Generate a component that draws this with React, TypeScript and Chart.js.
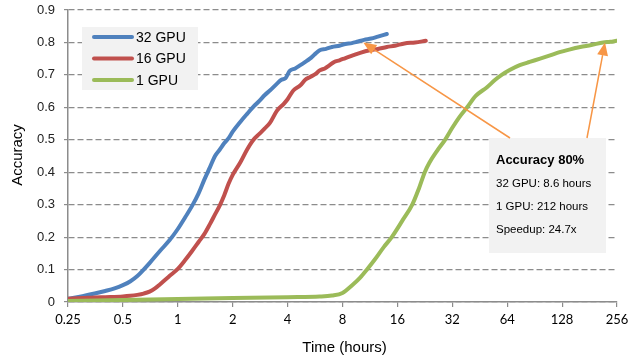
import React, { useEffect, useRef } from "react";
import { Chart, registerables } from "chart.js";

Chart.register(...registerables);

const xTickValues = [0.25, 0.5, 1, 2, 4, 8, 16, 32, 64, 128, 256];
const yTickMax = 0.9;

const seriesNames = ["32 GPU", "16 GPU", "1 GPU"];
const seriesColors = ["#4f81bd", "#c0504d", "#9bbb59"];

const timeBlue = [0.25, 0.3, 0.35, 0.4, 0.45, 0.5, 0.55, 0.6, 0.65, 0.7, 0.8, 0.9, 1.0, 1.1, 1.2, 1.3, 1.4, 1.5, 1.6, 1.7, 1.8, 1.9, 2.0, 2.2, 2.4, 2.6, 2.8, 3.0, 3.2, 3.5, 3.7, 3.9, 4.1, 4.4, 4.7, 5.0, 5.3, 5.6, 6.0, 6.5, 7.0, 7.7, 8.3, 9.0, 9.6, 10.5, 11.5, 12.5, 14];
const accBlue = [0.01, 0.018, 0.026, 0.034, 0.042, 0.052, 0.064, 0.08, 0.1, 0.12, 0.158, 0.19, 0.225, 0.262, 0.297, 0.335, 0.378, 0.415, 0.45, 0.47, 0.49, 0.505, 0.525, 0.555, 0.58, 0.602, 0.62, 0.638, 0.652, 0.673, 0.685, 0.69, 0.712, 0.72, 0.73, 0.74, 0.75, 0.762, 0.776, 0.78, 0.786, 0.79, 0.795, 0.798, 0.802, 0.808, 0.812, 0.818, 0.826];

const timeRed = [0.25, 0.3, 0.35, 0.4, 0.5, 0.55, 0.6, 0.65, 0.7, 0.75, 0.8, 0.85, 0.9, 1.0, 1.1, 1.2, 1.3, 1.4, 1.5, 1.6, 1.7, 1.8, 1.9, 2.0, 2.2, 2.4, 2.6, 2.8, 3.0, 3.2, 3.5, 3.8, 4.0, 4.3, 4.7, 5.0, 5.3, 5.7, 6.0, 6.4, 6.8, 7.2, 7.7, 8.3, 9.1, 10, 11.3, 12.5, 14, 15.5, 17.5, 20, 22.9];
const accRed = [0.01, 0.012, 0.014, 0.015, 0.017, 0.019, 0.022, 0.026, 0.032, 0.042, 0.055, 0.068, 0.08, 0.102, 0.13, 0.158, 0.185, 0.21, 0.24, 0.27, 0.298, 0.33, 0.365, 0.392, 0.43, 0.47, 0.5, 0.518, 0.535, 0.552, 0.59, 0.61, 0.625, 0.652, 0.668, 0.685, 0.693, 0.703, 0.714, 0.72, 0.73, 0.74, 0.745, 0.752, 0.76, 0.768, 0.776, 0.78, 0.786, 0.79, 0.797, 0.8, 0.805];

const timeGreen = [0.25, 0.5, 1, 2, 4, 6, 7, 8, 9.1, 10, 10.9, 12, 13.5, 14.9, 17, 19.3, 21, 22.6, 24, 26.4, 29.2, 32, 35, 38.6, 43, 49.6, 55, 59.7, 66, 75, 85, 97, 110, 124, 140, 161, 185, 215, 235, 254];
const accGreen = [0.003, 0.006, 0.009, 0.012, 0.015, 0.017, 0.02, 0.028, 0.053, 0.075, 0.1, 0.13, 0.17, 0.2, 0.25, 0.3, 0.35, 0.4, 0.43, 0.466, 0.5, 0.537, 0.57, 0.6, 0.635, 0.662, 0.685, 0.7, 0.715, 0.73, 0.74, 0.75, 0.76, 0.77, 0.778, 0.786, 0.792, 0.8, 0.802, 0.805];

const annotationTitle = "Accuracy 80%";
const annotationLines = ["32 GPU: 8.6 hours", "1 GPU: 212 hours", "Speedup: 24.7x"];
const arrowTipTimes = [10.4, 220];
const arrowTipAcc = 0.8;

const xTitle = "Time (hours)";
const yTitle = "Accuracy";

const ORANGE = "#f79646";

function drawArrow(ctx: CanvasRenderingContext2D, x1: number, y1: number, x2: number, y2: number) {
  const ang = Math.atan2(y2 - y1, x2 - x1);
  const headLen = 13;
  const headW = 5.5;
  const bx = x2 - headLen * Math.cos(ang);
  const by = y2 - headLen * Math.sin(ang);
  ctx.save();
  ctx.strokeStyle = ORANGE;
  ctx.fillStyle = ORANGE;
  ctx.lineWidth = 1.5;
  ctx.beginPath();
  ctx.moveTo(x1, y1);
  ctx.lineTo(bx, by);
  ctx.stroke();
  ctx.beginPath();
  ctx.moveTo(x2, y2);
  ctx.lineTo(bx + headW * Math.sin(ang), by - headW * Math.cos(ang));
  ctx.lineTo(bx - headW * Math.sin(ang), by + headW * Math.cos(ang));
  ctx.closePath();
  ctx.fill();
  ctx.restore();
}

const overlayPlugin = {
  id: "overlay",
  afterDraw(chart: any) {
    const ctx: CanvasRenderingContext2D = chart.ctx;
    const area = chart.chartArea;
    const xs = chart.scales.x;
    const ys = chart.scales.y;

    // Legend
    const lx = area.left + 14;
    const ly = area.top + 17;
    ctx.save();
    ctx.fillStyle = "#f2f2f2";
    ctx.fillRect(lx, ly, 116, 63);
    seriesNames.forEach((name, i) => {
      const yy = ly + 10 + i * 21.5;
      ctx.strokeStyle = seriesColors[i];
      ctx.lineWidth = 4;
      ctx.lineCap = "round";
      ctx.beginPath();
      ctx.moveTo(lx + 12, yy);
      ctx.lineTo(lx + 50, yy);
      ctx.stroke();
      ctx.fillStyle = "#000";
      ctx.font = "14px 'Liberation Sans', Arial, sans-serif";
      ctx.textBaseline = "middle";
      ctx.textAlign = "left";
      ctx.fillText(name, lx + 54, yy + 1);
    });
    ctx.restore();

    // Annotation box
    const bx = area.right - 128;
    const by = area.top + 128;
    ctx.save();
    ctx.fillStyle = "#f2f2f2";
    ctx.fillRect(bx, by, 117, 115);
    ctx.fillStyle = "#000";
    ctx.textBaseline = "middle";
    ctx.textAlign = "left";
    ctx.font = "bold 13px 'Liberation Sans', Arial, sans-serif";
    ctx.fillText(annotationTitle, bx + 7, by + 22);
    ctx.font = "11.5px 'Liberation Sans', Arial, sans-serif";
    annotationLines.forEach((t, i) => {
      ctx.fillText(t, bx + 7, by + 46 + i * 23);
    });
    ctx.restore();

    // Arrows
    const ty = ys.getPixelForValue(arrowTipAcc);
    drawArrow(ctx, bx + 21, by, xs.getPixelForValue(arrowTipTimes[0]), ty);
    drawArrow(ctx, bx + 98, by, xs.getPixelForValue(arrowTipTimes[1]), ty);

    // Axis titles
    ctx.save();
    ctx.fillStyle = "#000";
    ctx.font = "15px 'Liberation Sans', Arial, sans-serif";
    ctx.textAlign = "center";
    ctx.textBaseline = "middle";
    ctx.fillText(xTitle, (area.left + area.right) / 2 + 2, 348);
    ctx.translate(18, 155);
    ctx.rotate(-Math.PI / 2);
    ctx.fillText(yTitle, 0, 0);
    ctx.restore();
  },
};

export default function App() {
  const ref = useRef<HTMLCanvasElement>(null);
  useEffect(() => {
    document.body.style.margin = "0";
    const mk = (t: number[], a: number[]) => t.map((v, i) => ({ x: v, y: a[i] }));
    const chart = new Chart(ref.current!, {
      type: "line",
      data: {
        datasets: [
          { label: seriesNames[0], data: mk(timeBlue, accBlue), borderColor: seriesColors[0], order: 2 },
          { label: seriesNames[1], data: mk(timeRed, accRed), borderColor: seriesColors[1], order: 1 },
          { label: seriesNames[2], data: mk(timeGreen, accGreen), borderColor: seriesColors[2], order: 0 },
        ].map((d) => ({
          ...d,
          borderWidth: 4,
          pointRadius: 0,
          fill: false,
          cubicInterpolationMode: "monotone" as const,
          borderCapStyle: "round" as const,
          borderJoinStyle: "round" as const,
        })),
      },
      options: {
        responsive: false,
        animation: false,
        layout: { padding: { top: 10, right: 23, left: 0, bottom: 0 } },
        plugins: { legend: { display: false }, tooltip: { enabled: false } },
        scales: {
          x: {
            type: "logarithmic",
            min: 0.25,
            max: 256,
            afterBuildTicks: (s: any) => {
              s.ticks = xTickValues.map((v) => ({ value: v }));
            },
            afterFit: (s: any) => {
              s.height = 60;
            },
            ticks: {
              autoSkip: false,
              maxRotation: 0,
              padding: 5,
              color: "#000",
              font: { family: "Lato, 'Liberation Sans', sans-serif", size: 13 },
              callback: (v: any) => String(v),
            },
            grid: { drawOnChartArea: false, drawTicks: true, tickLength: 5, color: "#8c8c8c", lineWidth: 1.2 },
            border: { display: true, color: "#8c8c8c", width: 1.5 },
          },
          y: {
            type: "linear",
            min: 0,
            max: yTickMax,
            afterFit: (s: any) => {
              s.width = 68;
              s.paddingTop = 0;
              s.paddingBottom = 0;
            },
            ticks: {
              stepSize: 0.1,
              padding: 9,
              color: "#222",
              font: { family: "'Liberation Sans', Arial, sans-serif", size: 13 },
              callback: (v: any) => (v === 0 ? "0" : Number(v).toFixed(1)),
            },
            grid: { color: "#8c8c8c", lineWidth: 1.2, drawTicks: true, tickLength: 4, tickColor: "#8c8c8c" },
            border: { display: true, color: "#8c8c8c", width: 1.5, dash: [6, 3] },
          },
        },
      },
      plugins: [overlayPlugin],
    });
    return () => chart.destroy();
  }, []);
  return (
    <div style={{ width: 640, height: 362 }}>
      <canvas ref={ref} width={640} height={362} />
    </div>
  );
}
